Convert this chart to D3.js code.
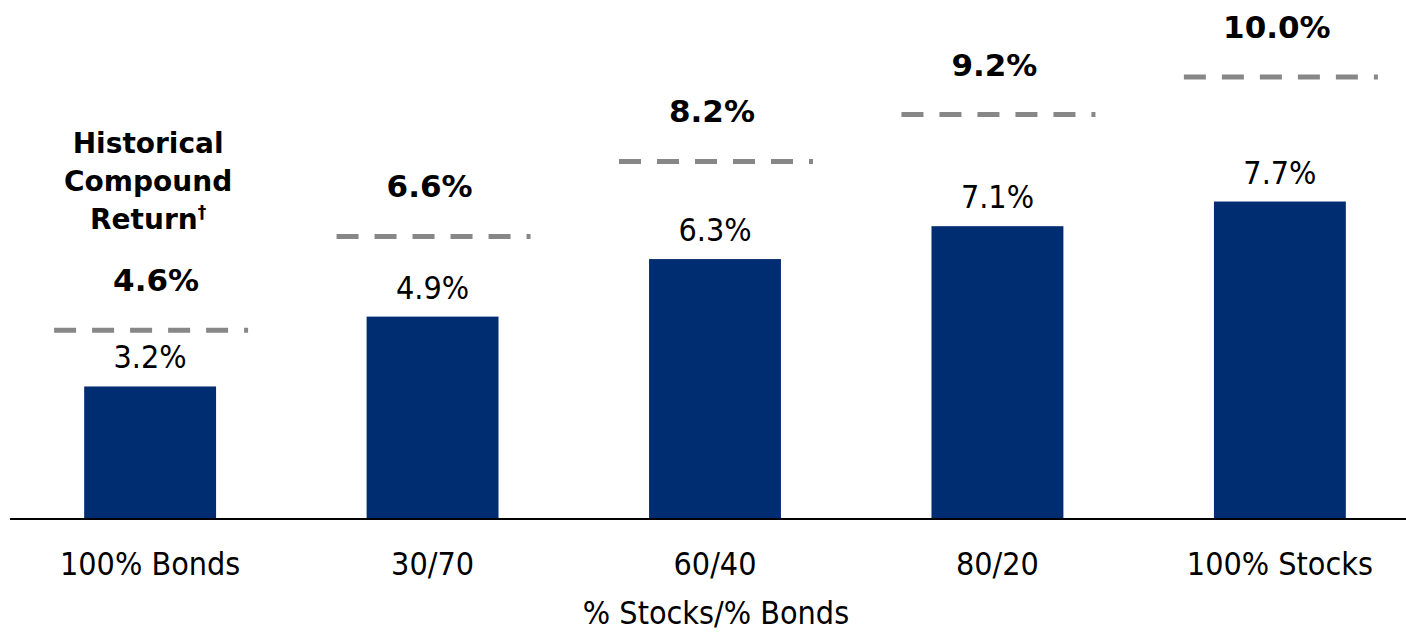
<!DOCTYPE html>
<meta charset="utf-8">
<style>
  body { margin: 0; background: #fff; }
  .value { font-family: "DejaVu Sans Condensed", "DejaVu Sans", sans-serif; font-stretch: condensed; font-size: 32px; fill: #000; text-anchor: middle; }
  .hist { font-family: "DejaVu Sans", sans-serif; font-weight: bold; font-size: 31px; fill: #000; text-anchor: middle; }
  .note { font-family: "DejaVu Sans", sans-serif; font-weight: bold; font-size: 28px; fill: #000; text-anchor: middle; }
  .tick { font-family: "DejaVu Sans Condensed", "DejaVu Sans", sans-serif; font-stretch: condensed; font-size: 32px; fill: #000; text-anchor: middle; }
</style>
<svg width="1406" height="635"></svg>
<script src="https://d3js.org/d3.v7.min.js"></script>
<script>
// Data
var categories = ["100% Bonds", "30/70", "60/40", "80/20", "100% Stocks"];
var recentReturns = [3.2, 4.9, 6.3, 7.1, 7.7];
var historicalReturns = [4.6, 6.6, 8.2, 9.2, 10.0];
var axisTitle = "% Stocks/% Bonds";
var noteLines = ["Historical", "Compound", "Return"];

var svg = d3.select("svg"),
    baseY = 518;

// Scales
var x = d3.scaleBand()
    .domain(categories)
    .range([8.75, 1421.25])
    .paddingInner(0.533)
    .paddingOuter(0.267);

var y = d3.scaleLinear().domain([0, 10]).range([baseY, 107]);
// historical markers sit on their own scale in the original
var yHist = d3.scaleLinear().domain([0, 10]).range([546, 77]);

var rows = categories.map(function (c, i) {
  return { cat: c, recent: recentReturns[i], hist: historicalReturns[i] };
});

// Bars
svg.append("g")
  .selectAll("rect")
  .data(rows)
  .enter().append("rect")
    .attr("x", function (d) { return x(d.cat); })
    .attr("width", x.bandwidth())
    .attr("y", function (d) { return y(d.recent); })
    .attr("height", function (d) { return baseY - y(d.recent); })
    .attr("fill", "#002D72");

// Bar value labels
svg.append("g")
  .selectAll("text")
  .data(rows)
  .enter().append("text")
    .attr("class", "value")
    .attr("x", function (d) { return x(d.cat) + x.bandwidth() / 2; })
    .attr("y", function (d) { return y(d.recent) - 18; })
    .text(function (d) { return d.recent.toFixed(1) + "%"; });

// Historical dashed markers
svg.append("g")
  .selectAll("line")
  .data(rows)
  .enter().append("line")
    .attr("x1", function (d) { return x(d.cat) + x.bandwidth() / 2 - 96; })
    .attr("x2", function (d) { return x(d.cat) + x.bandwidth() / 2 + 98; })
    .attr("y1", function (d) { return yHist(d.hist); })
    .attr("y2", function (d) { return yHist(d.hist); })
    .attr("stroke", "#878787")
    .attr("stroke-width", 5)
    .attr("stroke-dasharray", "22,16");

svg.append("g")
  .selectAll("text")
  .data(rows)
  .enter().append("text")
    .attr("class", "hist")
    .attr("x", function (d, i) { return x(d.cat) + x.bandwidth() / 2 + (i === 0 ? 6 : -3); })
    .attr("y", function (d) { return yHist(d.hist) - 39; })
    .text(function (d) { return d.hist.toFixed(1) + "%"; });

// Note over the first column
var noteX = x(categories[0]) + x.bandwidth() / 2 - 2;
var note = svg.append("text")
    .attr("class", "note")
    .attr("x", noteX)
    .attr("y", 153);
note.selectAll("tspan")
  .data(noteLines)
  .enter().append("tspan")
    .attr("x", noteX)
    .attr("dy", function (d, i) { return i === 0 ? 0 : 38; })
    .text(function (d) { return d; });
note.select("tspan:last-child")
  .append("tspan")
    .attr("font-size", "17px")
    .attr("dy", -11)
    .text("†");

// Baseline and category labels
svg.append("line")
    .attr("x1", 10).attr("x2", 1406)
    .attr("y1", baseY + 1).attr("y2", baseY + 1)
    .attr("stroke", "#000")
    .attr("stroke-width", 2);

var xAxis = d3.axisBottom(x).tickSize(0).tickPadding(0);
var gx = svg.append("g")
    .attr("transform", "translate(0," + baseY + ")")
    .call(xAxis);
gx.select(".domain").remove();
gx.selectAll("text")
    .attr("class", "tick")
    .attr("dy", null)
    .attr("y", 57);
gx.attr("font-family", null).attr("font-size", null);

svg.append("text")
    .attr("class", "tick")
    .attr("x", 716)
    .attr("y", 624)
    .text(axisTitle);
</script>
